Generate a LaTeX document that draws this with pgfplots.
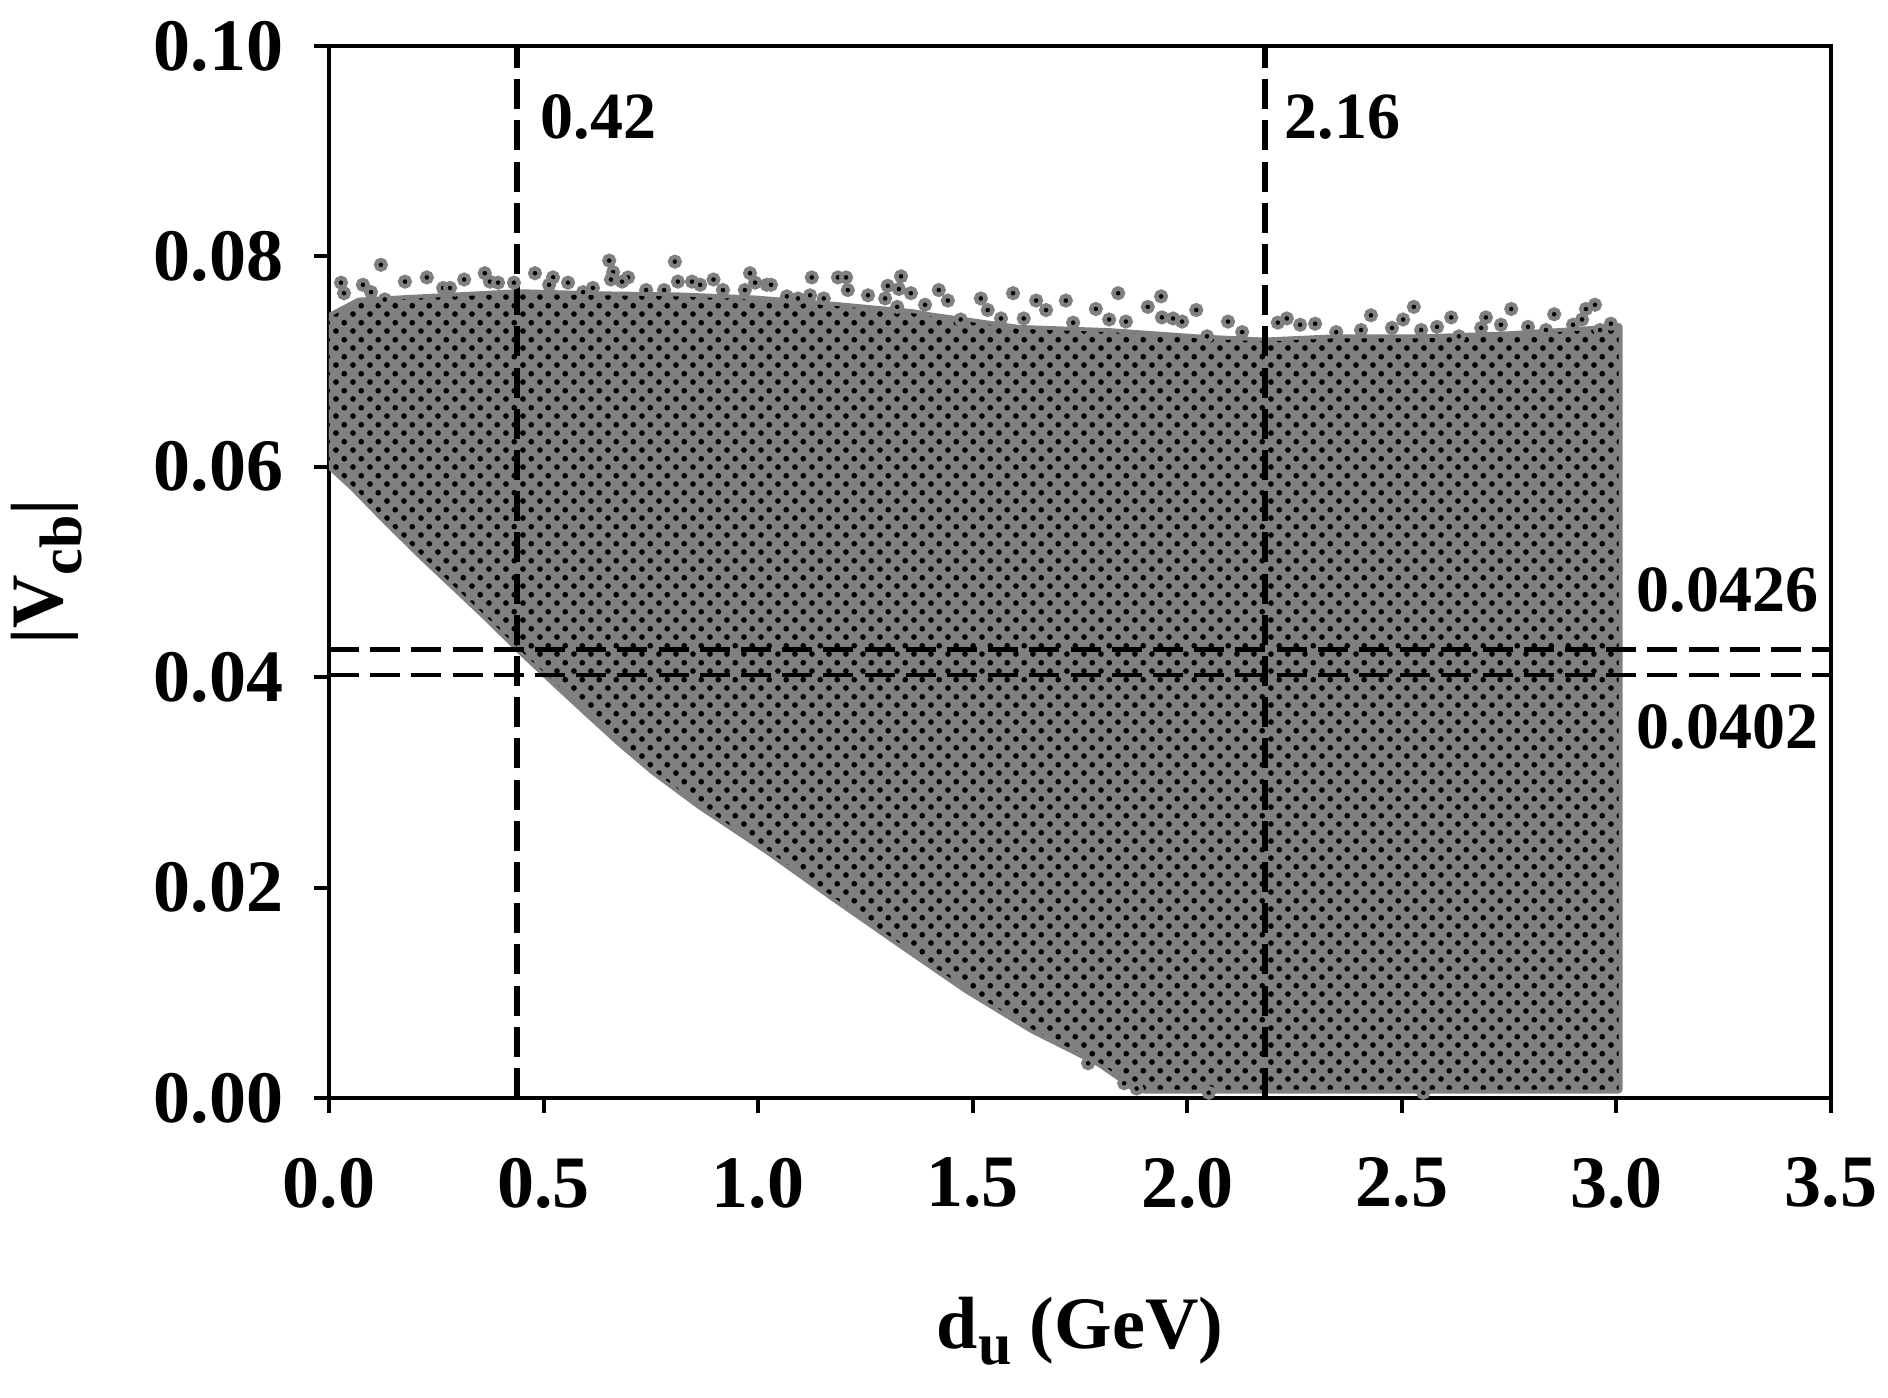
\documentclass[border=0pt]{standalone}
\usepackage{fontspec}
\setmainfont{Liberation Serif}
\usepackage{pgfplots}
\usepackage{pgfplotstable}
\pgfplotsset{compat=1.18}
\usetikzlibrary{patterns}

% black points of the scatter, staggered
\pgfdeclarepatternformonly{scatterdots}{\pgfqpoint{-1pt}{-1pt}}{\pgfqpoint{3.2pt}{3.2pt}}{\pgfqpoint{4.2pt}{4.2pt}}{%
  \pgfpathcircle{\pgfqpoint{0pt}{0pt}}{0.72pt}%
  \pgfpathcircle{\pgfqpoint{2.1pt}{2.1pt}}{0.72pt}%
  \pgfusepath{fill}}

\newcommand{\tickfont}{\fontsize{18.5}{20}\selectfont\bfseries}
\newcommand{\notefont}{\fontsize{16.5}{18}\selectfont\bfseries}

% outline of the scanned region
\pgfplotstableread{
du    vcb
0     0.0602
0     0.0742
0.07  0.0757
0.256 0.0761
0.44  0.0765
0.625 0.0763
0.81  0.0762
0.993 0.0759
1.177 0.0753
1.36  0.0746
1.40  0.0743
1.608 0.0731
1.818 0.0728
2.025 0.0722
2.18  0.0719
2.337 0.0722
2.545 0.0722
2.752 0.0725
2.98  0.0731
3.005 0.0733
3.005 0.0008
1.90  0.0008
1.874 0.0011
1.797 0.0033
1.64  0.0065
1.487 0.0103
1.33  0.0147
1.175 0.0191
1.02  0.0236
0.865 0.0278
0.756 0.0311
0.678 0.0338
0.60  0.0367
0.523 0.0396
0.445 0.0426
0.368 0.0457
0.29  0.0487
0.212 0.0517
0.135 0.0548
0.056 0.0581
}\envelope

% points that stand out of the edge
\pgfplotstableread{
du    vcb
0.121 0.0792
0.028 0.0775
0.079 0.0773
0.177 0.0776
0.228 0.0780
0.315 0.0778
0.363 0.0784
0.480 0.0784
0.522 0.0780
0.557 0.0775
0.653 0.0796
0.662 0.0785
0.697 0.0780
0.806 0.0795
0.813 0.0776
0.846 0.0776
0.896 0.0778
0.981 0.0784
1.020 0.0773
1.125 0.0780
1.186 0.0780
1.205 0.0780
1.333 0.0781
1.302 0.0772
1.328 0.0769
1.356 0.0765
1.421 0.0768
1.519 0.0760
1.594 0.0765
1.648 0.0758
1.717 0.0758
1.787 0.0750
1.839 0.0765
1.908 0.0752
1.939 0.0762
2.021 0.0749
1.941 0.0742
2.095 0.0738
2.232 0.0741
2.298 0.0736
2.428 0.0744
2.528 0.0752
2.615 0.0742
2.696 0.0742
2.755 0.0750
2.855 0.0745
2.929 0.0750
2.950 0.0754
2.987 0.0736
0.035 0.0765
0.098 0.0766
0.130 0.0759
0.266 0.0770
0.282 0.0770
0.375 0.0776
0.394 0.0775
0.431 0.0775
0.513 0.0773
0.592 0.0766
0.615 0.0770
0.657 0.0778
0.683 0.0776
0.739 0.0768
0.781 0.0768
0.865 0.0773
0.918 0.0768
0.969 0.0768
0.993 0.0775
1.030 0.0773
1.067 0.0762
1.093 0.0760
1.121 0.0763
1.153 0.0760
1.209 0.0768
1.256 0.0763
1.296 0.0760
1.324 0.0752
1.389 0.0754
1.442 0.0758
1.472 0.0740
1.535 0.0749
1.566 0.0741
1.619 0.0741
1.671 0.0749
1.734 0.0737
1.818 0.0740
1.857 0.0738
1.967 0.0741
1.988 0.0738
2.046 0.0724
2.128 0.0728
2.211 0.0737
2.263 0.0735
2.347 0.0728
2.405 0.0730
2.477 0.0732
2.503 0.0740
2.545 0.0730
2.582 0.0733
2.633 0.0724
2.685 0.0732
2.731 0.0735
2.794 0.0733
2.836 0.0730
2.899 0.0735
2.920 0.0740
2.962 0.0730
1.769 0.0033
1.853 0.0014
1.882 0.0009
2.05  0.0005
2.55  0.0005
}\stray

\begin{document}
\begin{tikzpicture}
\begin{axis}[
  at={(0,0)}, anchor=south west,
  width=375.5pt, height=263pt, scale only axis,
  xmin=0, xmax=3.5, ymin=0, ymax=0.1,
  xtick={0,0.5,1,1.5,2,2.5,3,3.5},
  ytick={0,0.02,0.04,0.06,0.08,0.1},
  tick pos=left, tick align=outside, major tick length=3.75pt,
  axis line style={line width=1pt},
  tick style={line width=1pt, black},
  /pgf/number format/assume math mode=true,
  x tick label style={/pgf/number format/.cd, fixed, fixed zerofill, precision=1, /tikz/.cd,
    font=\tickfont, yshift=-7.7pt},
  y tick label style={/pgf/number format/.cd, fixed, fixed zerofill, precision=2, /tikz/.cd,
    font=\tickfont, xshift=-4.2pt},
  scaled y ticks=false,
  xlabel={d\raisebox{-0.22em}{\fontsize{15}{16}\selectfont u} (GeV)},
  xlabel style={at={(axis description cs:0.5,0)}, anchor=north, yshift=-49.5pt,
    inner sep=0pt, font=\tickfont},
  ylabel={|V\raisebox{-0.25em}{\fontsize{15}{16}\selectfont cb}|},
  ylabel style={at={(axis description cs:-0.188,0.5)}, anchor=center,
    inner sep=0pt, font=\tickfont},
]
\addplot[fill=gray, draw=gray, line width=2pt, line join=round] table {\envelope} -- cycle;
\addplot[pattern=scatterdots, pattern color=black, draw=none] table {\envelope} -- cycle;
\addplot[only marks, mark=*, mark size=1.2pt,
  mark options={fill=black, draw=gray, line width=1.1pt}] table {\stray};
% bounds
\addplot[black, line width=1.5pt, dash pattern=on 7.5pt off 2.8pt] coordinates {(0.438,0) (0.438,0.1)};
\addplot[black, line width=1.5pt, dash pattern=on 7.5pt off 2.8pt] coordinates {(2.18,0) (2.18,0.1)};
\addplot[black, line width=1.2pt, dash pattern=on 7.5pt off 2.8pt] coordinates {(0,0.0426) (3.5,0.0426)};
\addplot[black, line width=1.2pt, dash pattern=on 7.5pt off 2.8pt] coordinates {(0,0.0402) (3.5,0.0402)};
\node[anchor=west, inner sep=0pt, font=\notefont] at (axis cs:0.492,0.0932) {0.42};
\node[anchor=west, inner sep=0pt, font=\notefont] at (axis cs:2.225,0.0932) {2.16};
\node[anchor=west, inner sep=0pt, font=\notefont] at (axis cs:3.046,0.0483) {0.0426};
\node[anchor=west, inner sep=0pt, font=\notefont] at (axis cs:3.046,0.0353) {0.0402};
\end{axis}
\pgfresetboundingbox
\path[use as bounding box] (-82.25pt,-75pt) rectangle (389.75pt,274.5pt);
\end{tikzpicture}
\end{document}
